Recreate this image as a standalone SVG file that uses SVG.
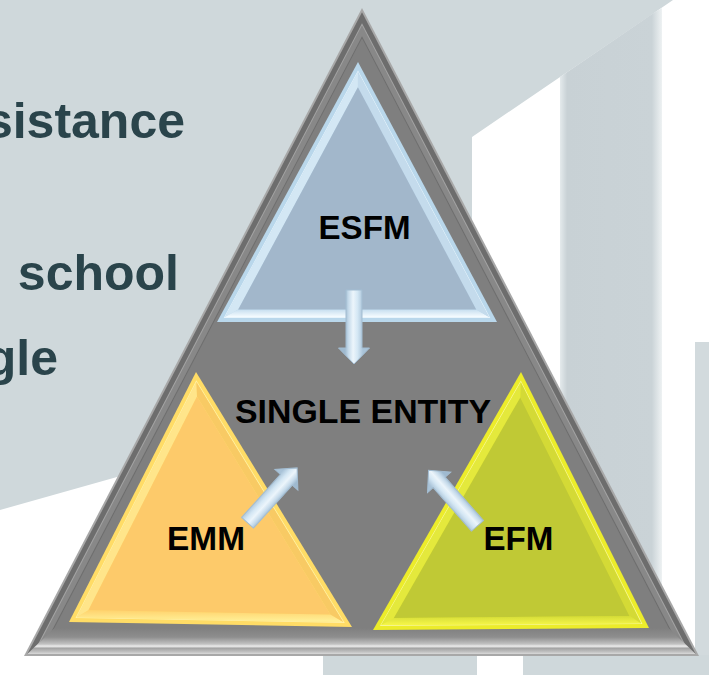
<svg xmlns="http://www.w3.org/2000/svg" width="709" height="675" viewBox="0 0 709 675">
<style>
.bgtxt{font-family:"Liberation Sans",Arial,sans-serif;font-weight:bold;font-size:50px;fill:#2a444b}
.lbl{font-family:"Liberation Sans",Arial,sans-serif;font-weight:bold;font-size:33px;fill:#000}
</style>
<defs>
<linearGradient id="stripG" x1="0" y1="0" x2="1" y2="0">
<stop offset="0" stop-color="#e4eaec"/><stop offset="0.07" stop-color="#c8d1d5"/><stop offset="0.9" stop-color="#cad3d7"/><stop offset="1" stop-color="#eef2f3"/>
</linearGradient>
<linearGradient id="baseG" x1="0" y1="0" x2="0" y2="1">
<stop offset="0" stop-color="#7f7f7f"/><stop offset="0.35" stop-color="#8e8e8e"/><stop offset="0.62" stop-color="#c2c2c2"/><stop offset="0.7" stop-color="#ededed"/><stop offset="0.78" stop-color="#a4a4a4"/><stop offset="0.9" stop-color="#bdbdbd"/><stop offset="1" stop-color="#d8d8d8"/>
</linearGradient>
<linearGradient id="blueBot" x1="0" y1="0" x2="0" y2="1">
<stop offset="0" stop-color="#c6deef"/><stop offset="1" stop-color="#f6fcff"/>
</linearGradient>
<linearGradient id="orBot" x1="0" y1="0" x2="0" y2="1">
<stop offset="0" stop-color="#ffd36e"/><stop offset="1" stop-color="#fff29a"/>
</linearGradient>
<linearGradient id="yeBot" x1="0" y1="0" x2="0" y2="1">
<stop offset="0" stop-color="#d4dc38"/><stop offset="1" stop-color="#f7f748"/>
</linearGradient>
<linearGradient id="ag" gradientUnits="userSpaceOnUse" x1="0" y1="-9" x2="0" y2="9">
<stop offset="0" stop-color="#a9c3d8"/><stop offset="0.3" stop-color="#d4e7f4"/><stop offset="0.55" stop-color="#ecf5fb"/><stop offset="0.8" stop-color="#c6dbeb"/><stop offset="1" stop-color="#9fbad0"/>
</linearGradient>
<polygon id="arw" points="0,-8 58,-8 58,-15.5 74,0 58,15.5 58,8 0,8" fill="url(#ag)" stroke="#a3bdd2" stroke-width="1"/>
</defs>

<g id="background">
<rect width="709" height="675" fill="#ffffff"/>
<polygon points="0,0 673,0 472,137 472,300 117,477 0,510" fill="#cfd8db"/>
<polygon points="560,77 655,12 662,8 662,675 560,675" fill="url(#stripG)"/>
<rect x="695" y="342" width="14" height="333" fill="#d2dadd"/>
<rect x="323" y="655" width="154" height="20" fill="#cfd8db"/>
<rect x="523" y="655" width="186" height="20" fill="#cfd8db"/>
<text class="bgtxt" x="185" y="138" text-anchor="end">sistance</text>
<text class="bgtxt" x="179" y="290" text-anchor="end">school</text>
<text class="bgtxt" x="58" y="375" text-anchor="end">gle</text>
</g>

<g id="single-entity">
<polygon points="362,8 24,656 699,656" fill="#a8a8a8"/>
<polygon points="362,12.3 27.3,654 695.7,654" fill="#6d6d6d"/>
<polygon points="362,23.2 35.5,649 687.5,649" fill="#a4a4a4"/>
<polygon points="362,25.3 37.2,648 685.8,648" fill="#888888"/>
<polygon points="362,36.2 45.4,643 677.6,643" fill="#6e6e6e"/>
<polygon points="362,38.3 47.1,642 675.9,642" fill="#7f7f7f"/>
<polygon points="54.4,628 668.6,628 695.7,654 27.3,654" fill="url(#baseG)"/>
<text class="lbl" x="235" y="423" textLength="256" lengthAdjust="spacingAndGlyphs">SINGLE ENTITY</text>
</g>

<g id="esfm">
<polygon points="358,62 217,322 497,322" fill="#b9d7eb"/>
<polygon points="358,70.4 223.7,318 490.3,318" fill="#e8f4fb"/>
<polygon points="358,71.9 225,317 489,317" fill="#bcd8ec"/>
<polygon points="358,71.9 225,317 238.2,309.5 357.9,87.3" fill="#d3e7f4"/>
<polygon points="225,317 489,317 476.2,309.5 238.2,309.5" fill="url(#blueBot)"/>
<polygon points="489,317 358,71.9 357.9,87.3 476.2,309.5" fill="#c4dbec"/>
<polygon points="357.9,87.3 238.2,309.5 476.2,309.5" fill="#a2b7cb"/>
<text class="lbl" x="318.5" y="239" textLength="92" lengthAdjust="spacingAndGlyphs">ESFM</text>
</g>

<g id="emm">
<polygon points="196,372 69,622 352,627" fill="#ffdc66"/>
<polygon points="196.3,380.2 75.5,618.1 344.8,622.9" fill="#fff0a8"/>
<polygon points="196.4,382 76.8,617.2 343.2,622" fill="#ffe070"/>
<polygon points="196.4,382 76.8,617.2 88.4,610.3 197,396.6" fill="#ffe58a"/>
<polygon points="76.8,617.2 343.2,622 330.4,614.6 88.4,610.3" fill="url(#orBot)"/>
<polygon points="343.2,622 196.4,382 197,396.6 330.4,614.6" fill="#f8ca64"/>
<polygon points="197,396.6 88.4,610.3 330.4,614.6" fill="#fdca6a"/>
<text class="lbl" x="167" y="550" textLength="78" lengthAdjust="spacingAndGlyphs">EMM</text>
</g>

<g id="efm">
<polygon points="521,372 373,630 649,628" fill="#ecec2a"/>
<polygon points="520.8,380.5 379.9,626 642.5,624" fill="#f6f69a"/>
<polygon points="520.8,382.2 381.3,625.1 641.1,623.2" fill="#ebee30"/>
<polygon points="520.8,382.2 381.3,625.1 393.8,617.9 520.3,397.4" fill="#e4e93c"/>
<polygon points="381.3,625.1 641.1,623.2 629.6,616.1 393.8,617.9" fill="url(#yeBot)"/>
<polygon points="641.1,623.2 520.8,382.2 520.3,397.4 629.6,616.1" fill="#d4da36"/>
<polygon points="520.3,397.4 393.8,617.9 629.6,616.1" fill="#c0c935"/>
<text class="lbl" x="483.5" y="550" textLength="70" lengthAdjust="spacingAndGlyphs">EFM</text>
</g>

<g id="connectors">
<use href="#arw" transform="translate(354,290) rotate(90)"/>
<use href="#arw" transform="translate(247.5,522.8) rotate(-47.9)"/>
<use href="#arw" transform="translate(477.5,525.8) rotate(-131.4)"/>
</g>
</svg>
